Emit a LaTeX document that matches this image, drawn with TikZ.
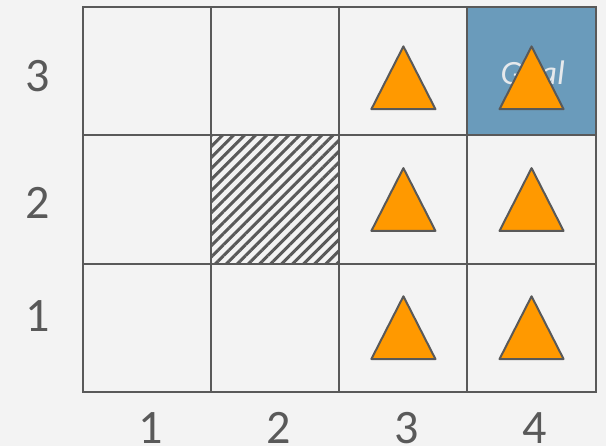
\documentclass[tikz,border=0pt]{standalone}
\usepackage{fontspec}
\setmainfont{Carlito}
\usetikzlibrary{patterns.meta}
\definecolor{bggray}{HTML}{F3F3F3}
\definecolor{gridgray}{HTML}{595959}
\definecolor{goalblue}{HTML}{6A9BBB}
\definecolor{goaltext}{HTML}{E6E9EC}
\definecolor{agentorange}{HTML}{FF9900}

\begin{document}
\begin{tikzpicture}[x=64pt, y=64pt,
  cell/.style={draw=gridgray, line width=1pt},
  agent/.style={fill=agentorange, draw=gridgray, line width=1pt, line join=round},
  axislabel/.style={text=gridgray, font=\fontsize{24}{28}\selectfont, inner sep=0pt}]

% Background
\fill[bggray] (-0.648,-0.424) rectangle (4.081,3.057);
\useasboundingbox (-0.648,-0.424) rectangle (4.081,3.057);

% Goal cell
\fill[goalblue] (3,2) rectangle (4,3);
\node[text=goaltext, font=\itshape\fontsize{17}{20}\selectfont] (goal) at (3.51,2.487) {Goal};

% Wall (hatched)
\fill[pattern={Lines[angle=45, distance=3.9pt, line width=1.5pt]}, pattern color=gridgray]
  (1,1) rectangle (2,2);

% Grid
\foreach \i in {1,2,3}
  \draw[cell] (\i,0) -- (\i,3);
\foreach \j in {1,2}
  \draw[cell] (0,\j) -- (4,\j);
\draw[cell] (0,0) rectangle (4,3);

% Agents
\foreach \x/\y in {2.5/2.45, 3.5/2.45, 2.5/1.5, 3.5/1.5, 2.5/0.5, 3.5/0.5}
  \draw[agent] ({\x-0.25},{\y-0.245}) -- ({\x+0.25},{\y-0.245}) -- (\x,{\y+0.245}) -- cycle;

% Axis labels
\foreach \c in {1,...,4}
  \node[axislabel] (col\c) at ({\c-0.474},-0.285) {\c};
\foreach \r/\yy in {1/0.588, 2/1.471, 3/2.463}
  \node[axislabel] (row\r) at (-0.351,\yy) {\r};

\end{tikzpicture}
\end{document}
